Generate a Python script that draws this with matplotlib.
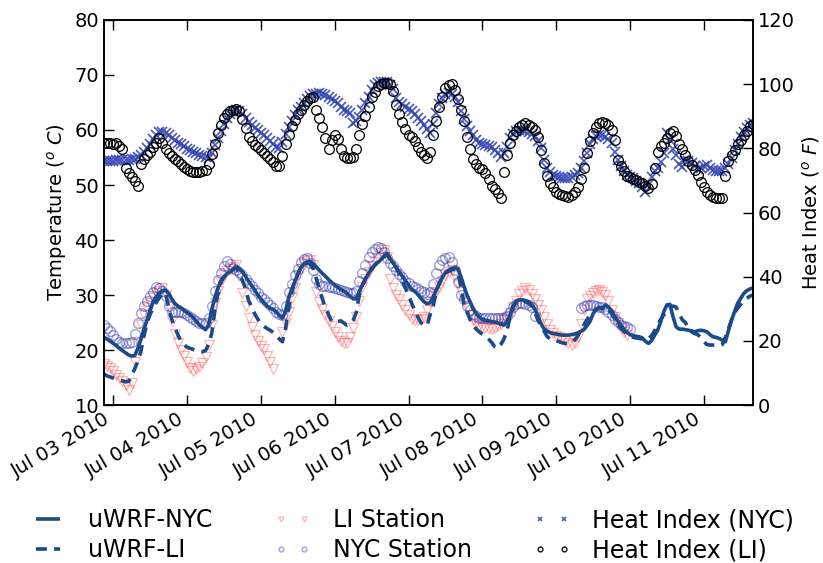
import numpy as np
import pandas as pd
import matplotlib
matplotlib.use("Agg")
import matplotlib.pyplot as plt
import matplotlib.dates as mdates

nan = np.nan
start = "2010-07-02 21:00"

# Hourly series, Jul 02 21:00 -> Jul 11 16:00 (one row per day)
uwrf_nyc = [
    22.3, 22.0, 21.6,
    21.2, 20.8, 20.3, 19.9, 19.5, 19.1, 18.9, 19.0, 20.3, 22.0, 23.8, 25.5, 27.2, 28.8, 29.7, 30.3, 30.8, 30.9, 30.3, 29.3, 28.5, 28.0, 27.7, 27.2,
    26.8, 26.4, 25.9, 25.2, 24.6, 24.1, 23.7, 24.5, 27.3, 29.5, 31.2, 32.6, 33.3, 33.9, 34.2, 34.7, 35.1, 34.8, 34.2, 33.4, 32.5, 31.7, 30.9, 30.0,
    29.3, 28.6, 28.0, 27.6, 27.4, 26.9, 26.3, 25.8, 27.0, 29.5, 31.0, 32.4, 33.8, 35.0, 35.7, 36.0, 36.1, 35.7, 35.1, 34.5, 33.9, 33.4, 32.8, 32.3,
    31.8, 31.4, 31.0, 30.7, 30.3, 29.8, 29.3, 29.3, 30.7, 31.8, 32.9, 33.9, 34.7, 35.4, 35.9, 36.4, 37.0, 37.6, 36.6, 35.8, 35.0, 34.2, 33.4, 32.6,
    31.8, 31.0, 30.7, 30.1, 29.4, 28.8, 28.4, 28.6, 29.6, 30.9, 32.1, 33.2, 34.1, 34.5, 34.8, 34.9, 34.8, 33.4, 31.6, 30.0, 28.8, 27.5, 26.6, 26.0,
    25.6, 25.4, 25.3, 25.2, 25.1, 24.9, 24.7, 24.5, 25.2, 26.3, 28.0, 28.9, 29.1, 29.1, 29.0, 28.8, 28.3, 27.5, 26.3, 24.9, 23.9, 23.4, 23.2, 23.0,
    22.9, 22.8, 22.7, 22.7, 22.7, 22.8, 22.9, 23.1, 23.4, 23.7, 24.4, 25.2, 26.6, 27.4, 27.8, 27.5, 28.2, 27.8, 27.1, 26.2, 25.3, 24.5, 23.8, 23.2,
    22.8, 22.6, 22.5, 22.4, 22.2, 21.6, 21.2, 21.7, 22.7, 23.6, 25.2, 27.0, 28.2, 28.3, 26.0, 24.2, 23.8, 23.8, 23.7, 23.6, 23.5, 23.3, 23.5, 23.6,
    23.5, 23.3, 22.8, 22.4, 22.3, 22.1, 21.8, 21.5, 23.5, 25.4, 27.0, 28.5, 29.4, 30.3, 30.8, 31.1, 31.3,
]

uwrf_li = [
    15.6, 15.3, 15.1,
    14.9, 14.7, 14.5, 14.4, 14.2, 14.3, 15.4, 16.6, 18.0, 19.8, 22.6, 25.0, 26.5, 27.7, 28.7, 29.5, 30.2, 30.4, 27.8, 25.6, 24.1, 22.8, 21.6, 21.0,
    20.5, 20.3, 20.1, 19.9, 19.7, 19.7, 19.9, 21.0, 23.0, 27.0, 30.3, 32.4, 33.3, 33.9, 34.2, 34.7, 35.0, 34.0, 32.6, 31.2, 29.0, 27.8, 26.6, 25.6,
    24.8, 24.3, 23.9, 23.6, 23.2, 22.6, 22.0, 21.5, 23.8, 27.6, 30.5, 32.4, 33.8, 35.0, 35.6, 35.9, 35.6, 34.8, 33.0, 31.0, 29.3, 27.6, 26.4, 25.2,
    25.0, 25.2, 25.3, 24.9, 24.5, 24.7, 25.4, 26.8, 30.0, 31.8, 33.0, 34.0, 34.8, 35.5, 36.0, 36.5, 37.0, 37.3, 36.5, 35.8, 34.9, 33.8, 32.5, 31.2,
    30.0, 28.5, 27.2, 26.0, 25.0, 24.5, 24.4, 26.4, 28.0, 30.5, 32.1, 33.2, 34.0, 34.3, 34.6, 34.7, 34.2, 31.5, 28.5, 27.0, 25.5, 24.5, 23.8, 23.3,
    22.9, 22.5, 22.0, 21.4, 20.6, 20.3, 21.0, 22.0, 23.5, 26.0, 27.8, 28.7, 29.0, 29.0, 28.8, 28.5, 28.0, 27.0, 25.5, 24.4, 23.5, 22.5, 22.0, 21.8,
    21.7, 21.5, 21.3, 21.2, 21.2, 21.3, 21.8, 22.5, 23.6, 24.6, 25.5, 26.4, 27.0, 27.4, 27.7, 27.5, 27.8, 27.3, 26.6, 25.7, 24.8, 24.0, 23.4, 22.9,
    22.5, 22.3, 22.2, 22.1, 22.0, 21.9, 22.1, 22.6, 23.5, 24.6, 25.6, 26.4, 27.2, 27.8, 28.0, 27.8, 26.5, 25.5, 25.0, 24.0, 23.3, 23.0, 22.8, 22.3,
    21.5, 21.0, 20.9, 20.9, 20.9, 20.8, 21.0, 22.3, 23.8, 25.5, 26.8, 27.6, 28.3, 28.9, 29.4, 29.8, 30.0,
]

li_station = [
    17.5, 17.1, 16.7,
    16.2, 15.5, 15.0, 14.4, 13.6, 12.8, 14.0, 17.8, 21.5, 24.5, 26.3, 27.6, 28.6, 29.4, 30.3, 30.8, 31.2, 30.0, 27.8, 25.2, 22.9, 21.2, 20.0, 19.0,
    17.8, 16.7, 16.1, 16.5, 17.0, 17.6, 18.8, 21.0, 24.5, 28.5, 30.8, 32.3, 33.6, 34.3, 34.8, 35.1, 35.4, 33.5, 30.3, 28.0, 25.8, 24.2, 22.8, 21.6,
    20.8, 20.2, 19.0, 17.8, 16.6, nan, nan, 23.3, 25.0, 27.0, 29.5, 31.2, 33.4, 34.8, 35.6, 36.2, 36.4, 35.5, 30.5, 28.8, 27.5, 26.3, 25.3, 24.4,
    23.2, 22.4, 21.6, 21.3, 21.2, 22.3, 24.0, 26.0, 29.0, 31.5, 33.0, 34.2, 35.2, 36.0, 36.8, 37.6, 38.2, 37.0, 33.0, 31.3, 30.0, 29.2, 28.2, 27.2,
    26.3, 25.6, 25.5, 25.5, 25.6, 26.0, 27.2, 28.8, 29.8, 30.6, 31.4, 32.6, 33.6, 34.2, 34.5, 33.4, 32.0, 30.5, 29.0, 27.6, 26.3, 25.5, 24.8, 24.3,
    24.1, 24.0, 23.9, 23.9, 24.0, 24.3, 24.8, 25.4, 26.0, 26.8, 27.8, 29.0, 30.2, 30.8, 31.2, 31.0, 30.2, 29.2, 28.2, 27.2, 26.0, 24.8, 23.6, 23.1,
    22.6, 22.3, 22.0, 21.6, 21.3, 21.0, 21.2, 22.3, 24.8, 27.2, 29.2, 29.9, 30.3, 30.7, 30.9, 30.6, 30.0, 29.0, 27.2, 26.0, 25.0, 24.0, 23.2, 22.7,
    nan, nan, nan, nan, nan, nan, nan, nan, nan, nan, nan, nan, nan, nan, nan, nan, nan, nan, nan, nan, nan, nan, nan, nan,
    nan, nan, nan, nan, nan, nan, nan, nan, nan, nan, nan, nan, nan, nan, nan, nan, nan,
]

nyc_station = [
    24.6, 24.0, 23.4,
    22.7, 22.0, 21.5, 21.3, 21.2, 21.2, 21.4, 22.9, 24.9, 26.7, 28.0, 29.0, 29.9, 30.6, 31.4, 31.3, 30.8, 29.8, 28.0, 27.0, 27.0, 27.0, 26.9, 26.7,
    26.4, 26.0, 25.7, 25.3, 25.0, 24.9, 25.0, 25.8, 28.0, 30.8, 32.8, 34.0, 35.2, 36.2, 35.6, 35.0, 34.6, 34.2, 33.6, 32.9, 32.2, 31.6, 31.0, 30.3,
    29.7, 29.2, 28.8, 28.2, 27.6, 27.0, 26.6, 26.4, 28.0, 30.6, 32.0, 33.6, 34.8, 36.0, 36.5, 36.7, 35.8, 34.6, 33.0, 32.0, 31.7, 31.6, 31.5, 31.4,
    31.3, 31.1, 30.9, 30.7, 30.6, 30.4, 30.3, 30.8, 32.5, 34.0, 35.5, 37.0, 37.8, 38.3, 38.8, 38.6, 37.8, 36.8, 35.8, 35.2, 34.5, 33.8, 33.2, 32.6,
    32.2, 31.7, 31.4, 31.1, 30.8, 30.5, 30.2, 30.6, 32.0, 34.0, 35.5, 36.3, 36.8, 37.0, 36.0, 34.5, 32.3, 30.0, 29.2, 28.0, 27.3, 26.6, 26.2, 25.9,
    25.8, 25.8, 25.8, 25.8, 25.8, 25.8, 25.8, 25.8, 26.2, 27.0, 27.8, 28.3, 28.5, 28.5, 28.4, 28.2, 27.9, 26.2, nan, nan, nan, nan, nan, nan,
    nan, nan, nan, nan, nan, nan, nan, nan, 27.6, 28.0, 28.2, 28.2, 28.1, 28.0, 27.9, 27.9, 27.5, 27.0, 26.4, 25.6, 25.1, 24.6, 24.3, 24.1,
    23.9, nan, nan, nan, nan, nan, nan, nan, nan, nan, nan, nan, nan, nan, nan, nan, nan, nan, nan, nan, nan, nan, nan, nan,
    nan, nan, nan, nan, nan, nan, nan, nan, nan, nan, nan, nan, nan, nan, nan, nan, nan,
]

heat_index_nyc = [
    76.0, 76.1, 76.2,
    76.2, 76.3, 76.3, 76.4, 76.4, 76.5, 76.6, 76.8, 77.2, 78.0, 78.8, 80.0, 81.5, 82.8, 84.0, 85.0, 85.2, 84.7, 84.0, 83.2, 82.5, 81.8, 81.2, 80.7,
    79.9, 79.4, 78.9, 78.4, 77.9, 77.5, 77.2, 76.9, 78.5, 81.0, 83.2, 85.3, 87.5, 89.3, 90.6, 91.5, 92.0, 91.6, 90.7, 89.6, 88.3, 87.2, 86.4, 85.6,
    84.8, 84.0, 83.2, 82.4, 81.5, 80.3, 80.0, 82.0, 84.5, 86.5, 88.6, 90.5, 92.0, 93.0, 94.0, 95.3, 96.4, 96.8, 97.0, 97.1, 96.9, 96.6, 96.1, 95.4,
    94.8, 94.0, 93.0, 92.0, 91.5, 90.9, 87.8, 88.5, 89.9, 92.0, 94.0, 96.0, 98.2, 99.6, 100.5, 100.8, 100.8, 100.8, 99.8, 98.4, 95.6, 94.5, 93.8, 93.0,
    92.4, 91.7, 90.6, 89.6, 88.4, 87.2, 86.0, 84.7, 87.5, 91.0, 93.8, 95.8, 96.8, 97.1, 96.8, 96.0, 94.5, 91.5, 89.2, 87.0, 85.5, 84.0, 82.6, 81.8,
    81.2, 80.9, 80.6, 80.3, 79.5, 78.5, 77.3, 78.5, 80.5, 83.2, 84.6, 85.4, 85.7, 85.6, 85.3, 85.0, 84.6, 83.8, 82.4, 80.0, 76.5, 74.0, 72.6, 71.8,
    71.3, 71.0, 70.7, 70.8, 70.9, 71.2, 71.6, 72.3, 73.8, 76.0, 78.6, 81.2, 83.0, 83.8, 84.2, 84.0, 83.6, 82.8, 81.6, 79.0, 76.5, 74.5, 72.8, 71.8,
    71.1, 70.6, 69.9, 69.1, 68.0, 66.5, 68.5, 71.0, 72.8, 74.0, 75.8, 78.4, 84.7, 82.5, 79.8, 77.9, 75.0, 74.3, 76.4, 76.0, 75.3, 74.5, 73.5, 73.8,
    74.5, 74.8, 73.8, 73.2, 73.0, 72.8, 72.9, 73.8, 75.0, 77.0, 79.5, 81.5, 83.4, 85.0, 86.4, 87.3, 88.0,
]

heat_index_li = [
    81.6, 81.7, 81.6,
    81.5, 81.6, 80.8, 79.8, 74.0, 72.3, 71.0, 69.8, 68.3, 75.0, 76.7, 77.8, 79.0, 80.5, 81.8, 83.1, 81.8, 79.9, 78.6, 77.5, 76.7, 76.0, 75.0, 74.2,
    73.5, 73.0, 72.7, 72.6, 72.7, 72.9, 73.2, 75.0, 78.3, 81.5, 84.7, 87.3, 89.5, 90.6, 91.6, 92.0, 92.2, 91.5, 89.0, 86.4, 83.4, 82.2, 81.0, 80.3,
    79.4, 78.6, 77.7, 76.7, 75.7, 74.6, 74.5, 77.5, 81.3, 84.3, 87.0, 88.9, 90.7, 92.0, 93.4, 94.8, 95.7, 96.1, 92.0, 89.3, 86.5, 83.3, 79.8, 82.5,
    84.0, 83.0, 79.8, 77.6, 77.0, 76.9, 77.3, 79.8, 84.0, 87.5, 90.0, 93.0, 96.0, 97.6, 99.5, 100.0, 100.3, 100.3, 100.0, 98.0, 93.5, 90.6, 88.2, 86.0,
    84.2, 83.6, 82.2, 80.5, 79.0, 77.8, 76.9, 79.0, 84.0, 88.5, 93.0, 96.0, 98.8, 99.7, 100.0, 98.2, 95.5, 92.0, 88.5, 83.6, 79.8, 76.8, 75.0, 74.0,
    73.6, 72.2, 70.3, 68.4, 67.2, 66.0, 64.4, 72.7, 78.0, 81.8, 84.0, 85.4, 86.5, 87.3, 87.8, 87.3, 86.5, 85.6, 83.5, 79.5, 75.3, 71.5, 69.3, 67.8,
    66.5, 65.8, 65.3, 65.0, 64.9, 65.3, 66.3, 68.0, 70.5, 74.0, 78.5, 82.3, 84.8, 86.5, 87.8, 88.3, 88.0, 87.4, 85.8, 82.5, 76.5, 74.5, 72.8, 71.5,
    71.0, 70.5, 70.1, 69.6, 69.1, 68.4, 67.6, 68.8, 74.0, 79.0, 80.8, 81.8, 83.2, 84.8, 85.5, 83.8, 81.5, 79.8, 78.0, 76.0, 74.8, 73.4, 71.8, 69.5,
    67.8, 66.4, 65.4, 64.9, 64.5, 64.4, 64.4, 71.5, 76.0, 78.0, 79.6, 81.2, 82.6, 84.2, 85.5, 86.9, 87.5,
]

labels = ["uWRF-NYC", "uWRF-LI", "LI Station", "NYC Station",
          "Heat Index (NYC)", "Heat Index (LI)"]


def hours(values):
    return pd.date_range(start, periods=len(values), freq="h")


plt.rcParams["font.family"] = ["DejaVu Sans"]
plt.rcParams["mathtext.fontset"] = "dejavusans"

fig = plt.figure(figsize=(8.23, 5.63), dpi=100)
ax = fig.add_axes([0.1264, 0.2806, 0.7886, 0.6839])
ax2 = ax.twinx()

model_color = "#1b4a8a"

h_li_st, = ax.plot(hours(li_station), li_station, linestyle="none", marker="v",
                   markersize=7, mfc="none", mec="#ff2a2a", mew=0.9, alpha=0.35)
h_nyc_st, = ax.plot(hours(nyc_station), nyc_station, linestyle="none", marker="o",
                    markersize=7, mfc="none", mec="#2f33a8", mew=1.0, alpha=0.45)
h_nyc, = ax.plot(hours(uwrf_nyc), uwrf_nyc, color=model_color, lw=2.6,
                 solid_capstyle="butt")
h_li, = ax.plot(hours(uwrf_li), uwrf_li, color=model_color, lw=2.6,
                linestyle=(0, (3.0, 2.0)))

h_hi_nyc, = ax2.plot(hours(heat_index_nyc), heat_index_nyc, linestyle="none",
                     marker="x", markersize=6.5, mec="#3447b3", mew=1.2, alpha=0.9)
h_hi_li, = ax2.plot(hours(heat_index_li), heat_index_li, linestyle="none",
                    marker="o", markersize=7, mfc="none", mec="black", mew=0.9)

t_all = hours(uwrf_nyc)
ax.set_xlim(t_all[0], t_all[-1])
ax.set_ylim(10, 80)
ax2.set_ylim(0, 120)
ax.set_yticks(np.arange(10, 81, 10))
ax2.set_yticks(np.arange(0, 121, 20))

ax.xaxis.set_major_locator(mdates.DayLocator())
ax.xaxis.set_major_formatter(mdates.DateFormatter("%b %d %Y"))
for lbl in ax.get_xticklabels():
    lbl.set_rotation(30)
    lbl.set_ha("right")

for a in (ax, ax2):
    a.tick_params(direction="in", length=7, width=1, labelsize=14)
    for s in a.spines.values():
        s.set_linewidth(1.2)
ax.tick_params(axis="x", top=True)

ax.set_ylabel("Temperature ($^o$ $C$)", fontsize=14)
ax2.set_ylabel("Heat Index ($^o$ $F$)", fontsize=14)

fig.legend([h_nyc, h_li, h_li_st, h_nyc_st, h_hi_nyc, h_hi_li], labels,
           loc="upper center", bbox_to_anchor=(0.5, 0.135), ncol=3,
           frameon=False, fontsize=17, numpoints=2, markerscale=0.5,
           handlelength=1.6, columnspacing=2.6, labelspacing=0.25,
           handletextpad=0.9)

fig.savefig("out.png", dpi=100)
